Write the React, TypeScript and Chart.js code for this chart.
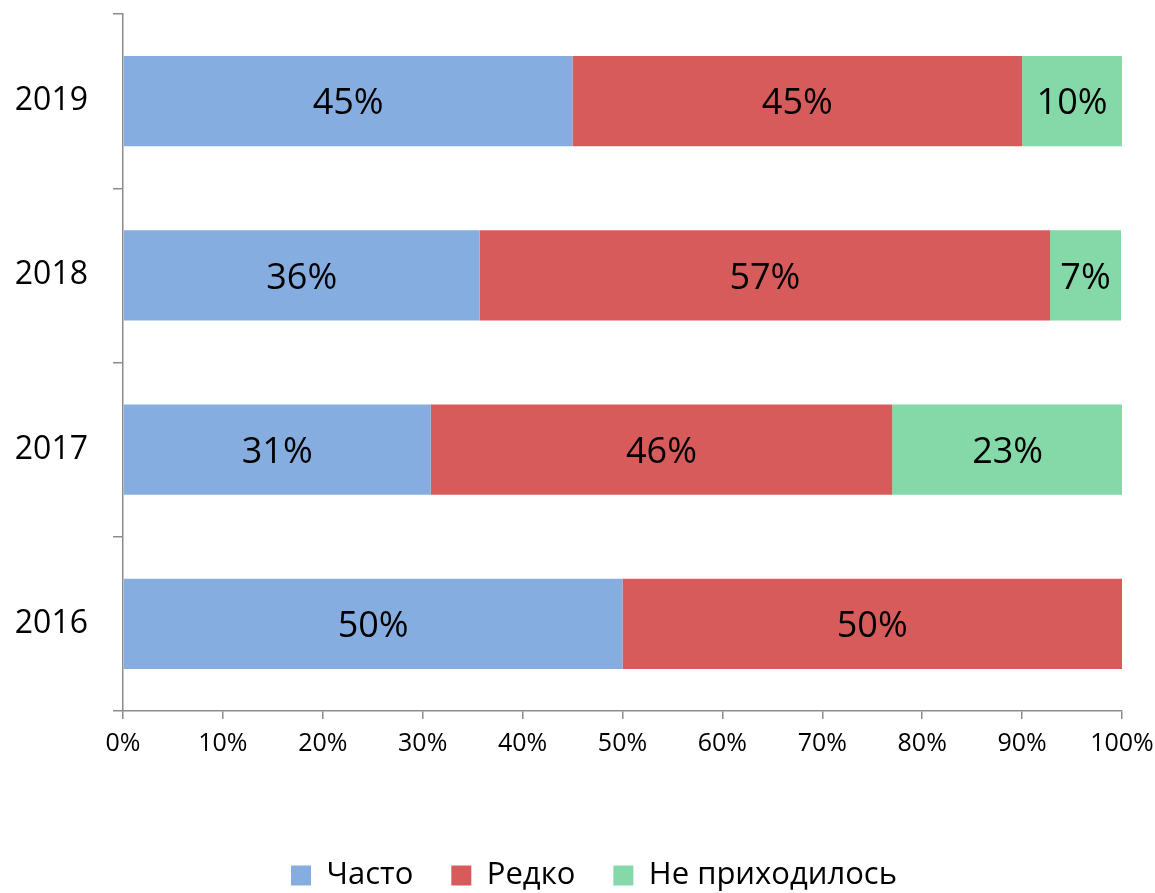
import React, { useEffect, useRef } from "react";
import { Chart, registerables } from "chart.js";

Chart.register(...registerables);

const years = ["2019", "2018", "2017", "2016"];
const often = [45, 35.7, 30.8, 50];
const rarely = [45, 57.1, 46.2, 50];
const never = [10, 7.1, 23.1, 0];
const seriesNames = ["Часто", "Редко", "Не приходилось"];
const seriesColors = ["#85addf", "#d75b5b", "#85d8a8"];
const xTicks = [0, 10, 20, 30, 40, 50, 60, 70, 80, 90, 100];

const FONT = "'Open Sans', 'Liberation Sans', sans-serif";
const AXIS_COLOR = "#8c8c8c";

const dataLabelPlugin = {
  id: "segLabels",
  afterDatasetsDraw(chart: any) {
    const ctx = chart.ctx;
    ctx.save();
    ctx.font = `36px ${FONT}`;
    ctx.fillStyle = "#000";
    ctx.textAlign = "center";
    ctx.textBaseline = "middle";
    chart.data.datasets.forEach((ds: any, di: number) => {
      const meta = chart.getDatasetMeta(di);
      meta.data.forEach((el: any, i: number) => {
        const v = ds.data[i];
        if (!v) return;
        const p = el.getProps(["x", "y", "base"], true);
        ctx.fillText(Math.round(v) + "%", (p.x + p.base) / 2, p.y + 3);
      });
    });
    ctx.restore();
  },
};

const legendShiftPlugin = {
  id: "legendShift",
  afterLayout(chart: any) {
    if (chart.legend) {
      chart.legend.left += 66;
    }
  },
};

export default function App() {
  const ref = useRef<HTMLCanvasElement>(null);
  useEffect(() => {
    if (!ref.current) return;
    const chart = new Chart(ref.current, {
      type: "bar",
      data: {
        labels: years,
        datasets: [often, rarely, never].map((d, i) => ({
          label: seriesNames[i],
          data: d,
          backgroundColor: seriesColors[i],
          borderWidth: 0,
          categoryPercentage: 1,
          barPercentage: 0.517,
        })),
      },
      options: {
        indexAxis: "y",
        animation: false,
        responsive: true,
        maintainAspectRatio: false,
        layout: { padding: { top: 14, left: 0, right: 33, bottom: -8 } },
        plugins: {
          tooltip: { enabled: false },
          legend: {
            position: "bottom",
            labels: {
              color: "#000",
              font: { family: FONT, size: 31 },
              boxWidth: 20,
              boxHeight: 20,
              padding: 38,
            },
          },
        },
        scales: {
          x: {
            stacked: true,
            min: 0,
            max: 100,
            afterBuildTicks: (scale: any) => {
              scale.ticks = xTicks.map((v) => ({ value: v }));
            },
            afterFit: (scale: any) => {
              scale.height = 111;
              scale.paddingLeft = 0;
              scale.paddingRight = 0;
            },
            ticks: {
              color: "#000",
              font: { family: FONT, size: 25 },
              padding: 10,
              callback: (v: any) => v + "%",
              maxRotation: 0,
            },
            grid: {
              drawOnChartArea: false,
              tickLength: 8,
              color: AXIS_COLOR,
              lineWidth: 1.5,
            },
            border: { color: AXIS_COLOR, width: 1.5 },
          },
          y: {
            stacked: true,
            afterFit: (scale: any) => {
              scale.width = 123;
              scale.paddingTop = 0;
              scale.paddingBottom = 0;
            },
            ticks: {
              color: "#000",
              font: { family: FONT, size: 32 },
              padding: 25,
            },
            grid: {
              offset: true,
              drawOnChartArea: false,
              tickLength: 10,
              color: AXIS_COLOR,
              lineWidth: 1.5,
            },
            border: { color: AXIS_COLOR, width: 1.5 },
          },
        },
      },
      plugins: [dataLabelPlugin, legendShiftPlugin],
    } as any);
    return () => chart.destroy();
  }, []);
  return (
    <div style={{ position: "fixed", left: 0, top: 0, width: 1155, height: 893, background: "#fff" }}>
      <canvas ref={ref} />
    </div>
  );
}
